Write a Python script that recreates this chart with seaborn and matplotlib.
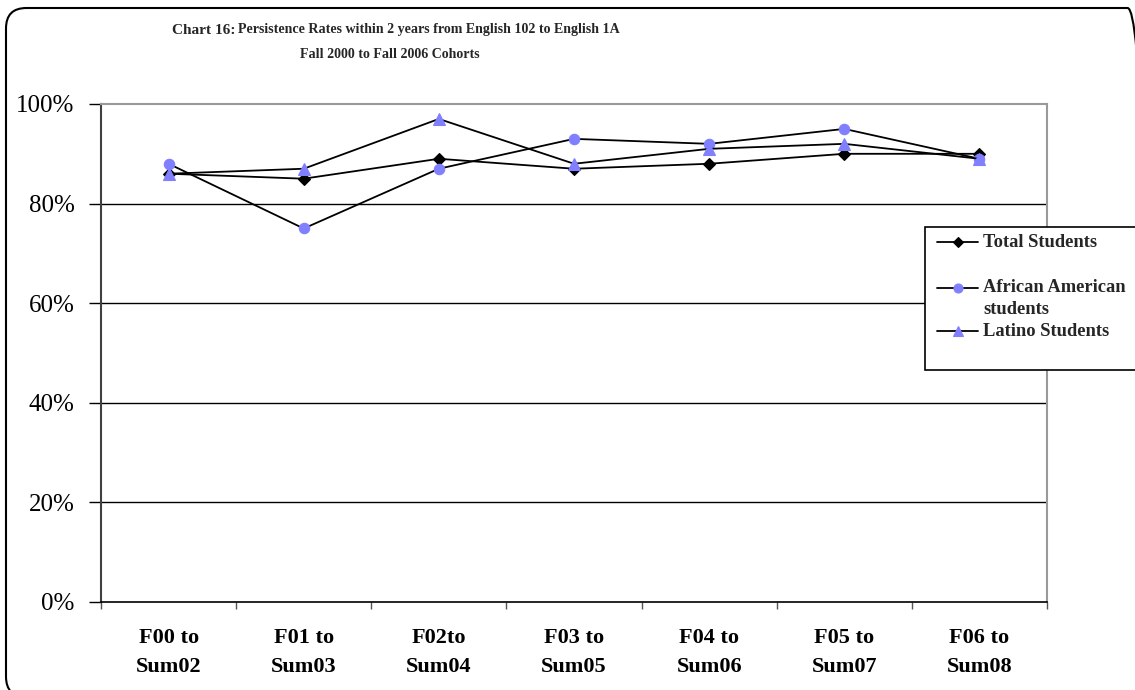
import matplotlib
matplotlib.use("Agg")
import matplotlib.pyplot as plt
import seaborn as sns
import pandas as pd
from matplotlib.patches import FancyBboxPatch, Rectangle
from matplotlib.lines import Line2D
from matplotlib.transforms import IdentityTransform
from matplotlib.ticker import FixedLocator, PercentFormatter

# Cohort labels and persistence rates (%)
cohorts = ["F00 to\nSum02", "F01 to\nSum03", "F02to\nSum04", "F03 to\nSum05",
           "F04 to\nSum06", "F05 to\nSum07", "F06 to\nSum08"]
total_students = [86, 85, 89, 87, 88, 90, 90]
african_american = [88, 75, 87, 93, 92, 95, 89]
latino_students = [86, 87, 97, 88, 91, 92, 89]
series_names = ["Total Students", "African American\nstudents", "Latino Students"]
y_ticks = [0, 20, 40, 60, 80, 100]

sns.set_theme(style="white")
plt.rcParams["font.family"] = ["Liberation Serif", "DejaVu Serif"]

W, H = 1135, 690
fig = plt.figure(figsize=(W / 100, H / 100), dpi=100)
ax = fig.add_axes([101 / W, 1 - 602 / H, (1047 - 101) / W, (602 - 104) / H])

blue = "#8080FF"
styles = [
    dict(marker="D", markersize=6.5, markerfacecolor="black", markeredgecolor="black"),
    dict(marker="o", markersize=7.5, markerfacecolor=blue, markeredgecolor=blue),
    dict(marker="^", markersize=8.5, markerfacecolor=blue, markeredgecolor=blue),
]
xpos = list(range(len(cohorts)))
for values, name, st in zip([total_students, african_american, latino_students],
                            series_names, styles):
    df = pd.DataFrame({"cohort": xpos, "rate": values})
    sns.lineplot(data=df, x="cohort", y="rate", ax=ax, color="black",
                 linewidth=1.3, markeredgewidth=0.8, zorder=3, **st)

ax.set_xlim(-0.5, len(cohorts) - 0.5)
ax.set_ylim(0, 100)
ax.set_xlabel("")
ax.set_ylabel("")

# horizontal gridlines
ax.yaxis.set_major_locator(FixedLocator(y_ticks))
ax.yaxis.set_major_formatter(PercentFormatter(decimals=0))
for yv in y_ticks[1:-1]:
    ax.axhline(yv, color="black", linewidth=1.0, zorder=1)

ax.set_xticks(xpos)
ax.set_xticklabels(cohorts, fontsize=16, fontweight="bold", linespacing=1.55)
ax.xaxis.set_minor_locator(FixedLocator([i - 0.5 for i in range(len(cohorts) + 1)]))
ax.tick_params(axis="x", which="major", length=0, pad=19)
ax.tick_params(axis="x", which="minor", length=5, width=1, color="#555555",
               direction="out", bottom=True)
ax.tick_params(axis="y", which="major", length=9, width=1, color="black",
               direction="out", left=True, labelsize=18, pad=10)
for lab in ax.get_yticklabels():
    lab.set_color("black")
for lab in ax.get_xticklabels():
    lab.set_color("black")

for side in ["top", "right"]:
    ax.spines[side].set_visible(True)
    ax.spines[side].set_color("#999999")
    ax.spines[side].set_linewidth(1.5)
ax.spines["left"].set_color("#404040")
ax.spines["left"].set_linewidth(1.5)
ax.spines["bottom"].set_color("black")
ax.spines["bottom"].set_linewidth(1.2)

# titles
fig.text(172 / W, 1 - 30 / H, "Chart 16:", fontsize=11, fontweight="bold",
         ha="left", va="center")
fig.text(238 / W, 1 - 30 / H,
         "Persistence Rates within 2 years from English 102 to English 1A",
         fontsize=10.1, fontweight="bold", ha="left", va="center")
fig.text(390 / W, 1 - 55 / H, "Fall 2000 to Fall 2006 Cohorts",
         fontsize=10.1, fontweight="bold", ha="center", va="center")

# legend box
fig.patches.append(Rectangle((925 / W, 1 - 370 / H), 230 / W, 143 / H,
                             transform=fig.transFigure, facecolor="white",
                             edgecolor="black", linewidth=1.2, zorder=5))
legend_rows = [(242, [242]), (288, [288, 310]), (331, [331])]
legend_text_lines = [["Total Students"], ["African American", "students"],
                     ["Latino Students"]]
for (yh, ylines), texts, st in zip(legend_rows, legend_text_lines, styles):
    fig.lines.append(Line2D([937 / W, 978 / W], [1 - yh / H, 1 - yh / H],
                            transform=fig.transFigure, color="black",
                            linewidth=1.3, zorder=6))
    fig.lines.append(Line2D([957.5 / W], [1 - yh / H], transform=fig.transFigure,
                            linestyle="none", zorder=7, markeredgewidth=0.8,
                            **{**st, "markersize": st["markersize"] - 1}))
    for yl, t in zip(ylines, texts):
        fig.text(983 / W, 1 - yl / H, t, fontsize=13.3, fontweight="bold",
                 ha="left", va="center", zorder=7)

# rounded outer frame (runs past the right and bottom edges)
frame = FancyBboxPatch((6 / W, -7 / H), 1142 / W, 689 / H,
                       boxstyle="round,pad=0,rounding_size=0.018",
                       mutation_aspect=W / H,
                       transform=fig.transFigure, facecolor="none",
                       edgecolor="black", linewidth=1.5, zorder=10)
fig.patches.append(frame)

fig.savefig("out.png", dpi=100)
